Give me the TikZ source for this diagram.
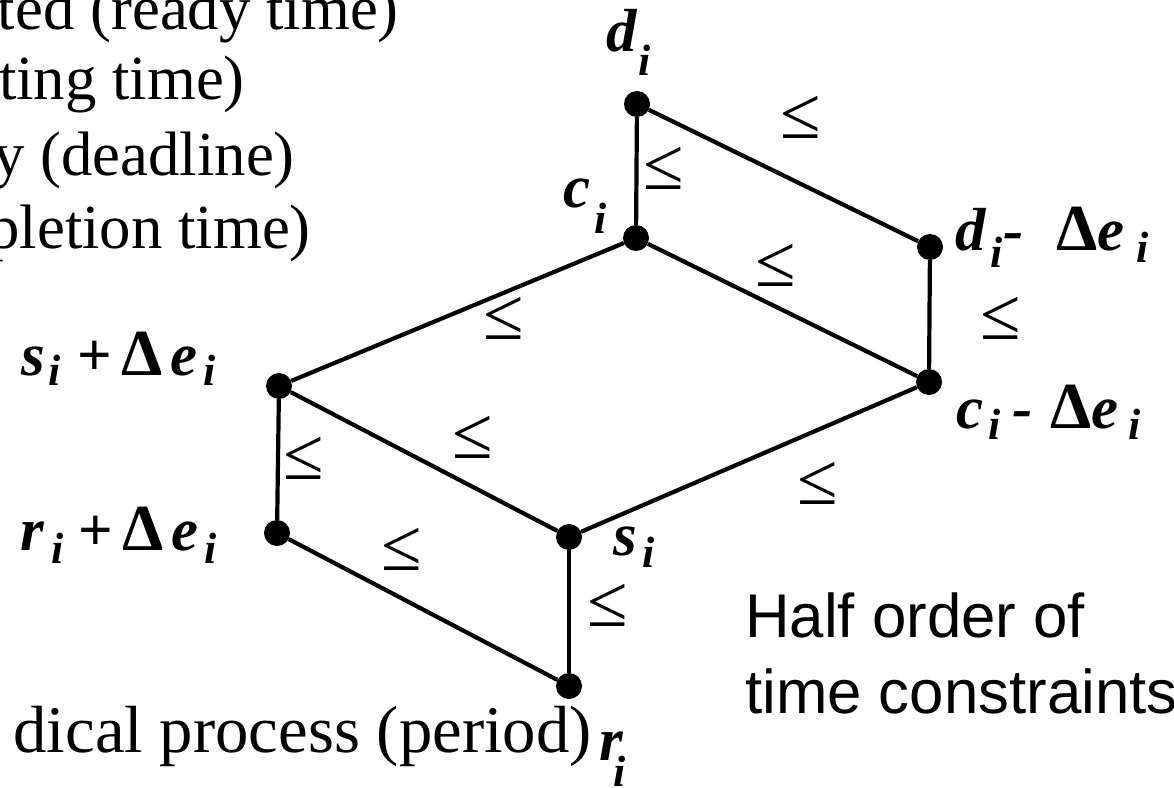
\documentclass[tikz,border=0pt]{standalone}
\usepackage{fontspec}
\setmainfont{Liberation Serif}
\newfontfamily\arialf{Liberation Sans}
\newfontfamily\labf{Liberation Serif}
\newcommand\V[1]{{\bfseries\itshape #1}}
\newcommand\Dl{{\fontsize{66}{66}\selectfont\bfseries Δ}}
\newcommand\Isub[1][14]{\raisebox{-#1bp}{\fontsize{44}{44}\selectfont\bfseries\itshape i}}
\begin{document}
\begin{tikzpicture}[x=1bp,y=-1bp,
  dot/.style={circle,fill=black,inner sep=0pt,minimum size=26bp},
  edge/.style={line width=4.2bp,black},
  le/.style={inner sep=0pt,font=\fontsize{74}{74}\selectfont},
  lab/.style={inner sep=0pt,anchor=base west,font=\fontsize{61}{61}\selectfont\labf},
  txt/.style={inner sep=0pt,anchor=base east,font=\fontsize{63}{63}\selectfont},
  sans/.style={inner sep=0pt,anchor=base west,font=\fontsize{62}{62}\selectfont\arialf}]
\useasboundingbox (0,0) rectangle (1174,788);
\clip (0,0) rectangle (1174,788);
\fill[white] (0,0) rectangle (1174,788);
% dots
\node[dot] (d)  at (637,104) {};
\node[dot] (c)  at (636,238) {};
\node[dot] (dD) at (930,247) {};
\node[dot] (cD) at (929,382) {};
\node[dot] (sD) at (279,386) {};
\node[dot] (rD) at (277,533) {};
\node[dot] (s)  at (569,537) {};
\node[dot] (r)  at (569,686) {};
% edges
\draw[edge] (d) -- (c);
\draw[edge] (d) -- (dD);
\draw[edge] (c) -- (cD);
\draw[edge] (dD) -- (cD);
\draw[edge] (c) -- (sD);
\draw[edge] (sD) -- (rD);
\draw[edge] (sD) -- (s);
\draw[edge] (s) -- (cD);
\draw[edge] (rD) -- (r);
\draw[edge] (s) -- (r);
% relation marks
\node[le] (l1)  at (664,168) {≤};
\node[le] (l2)  at (801,117) {≤};
\node[le] (l3)  at (776,265) {≤};
\node[le] (l4)  at (1001,318) {≤};
\node[le] (l5)  at (504,318) {≤};
\node[le] (l6)  at (304,458) {≤};
\node[le] (l7)  at (473,437) {≤};
\node[le] (l8)  at (818,483) {≤};
\node[le] (l9)  at (402,549) {≤};
\node[le] (l10) at (608,605) {≤};
% vertex labels
\node[lab] (Ld)  at (606,52)  {\V{d}\hspace{2bp}\Isub[24]};
\node[lab] (Lc)  at (563,207) {\V{c}\hspace{4bp}\Isub[26]};
\node[lab] (LdD) at (955,250) {\V{d}\hspace{5bp}\Isub[17]\hspace{1bp}\V{-}\hspace{32bp}\Dl\V{e}\hspace{12bp}\Isub[12]};
\node[lab] (LcD) at (956,428) {\V{c}\hspace{5bp}\Isub[11]\hspace{12bp}\V{-}\hspace{18bp}\Dl\V{e}\hspace{10bp}\Isub[11]};
\node[lab] (LsD) at (21,375)  {\V{s}\hspace{4bp}\Isub[10]\hspace{16bp}{\bfseries +}\hspace{10bp}\Dl\hspace{8bp}\V{e}\hspace{6bp}\Isub[10]};
\node[lab] (LrD) at (20,550)  {\V{r}\hspace{8bp}\Isub[13]\hspace{14bp}{\bfseries +}\hspace{10bp}\Dl\hspace{8bp}\V{e}\hspace{6bp}\Isub[13]};
\node[lab] (Ls)  at (613,555) {\V{s}\hspace{6bp}\Isub[12]};
\node[lab] (Lr)  at (599,760) {\V{r}\hspace{-9bp}\Isub[26]};
% left text
\node[txt] (t1) at (399,30)  {ted (ready time)};
\node[txt] (t2) at (245,100) {ting time)};
\node[txt] (t3) at (295,175) {y (deadline)};
\node[txt] (t4) at (311,248) {pletion time)};
\node[txt,font=\fontsize{67}{67}\selectfont] (t5) at (592,752) {dical process (period)};
% caption
\node[sans] (h1) at (745,637) {Half order of};
\node[sans] (h2) at (745,713) {time constraints};
\end{tikzpicture}
\end{document}
